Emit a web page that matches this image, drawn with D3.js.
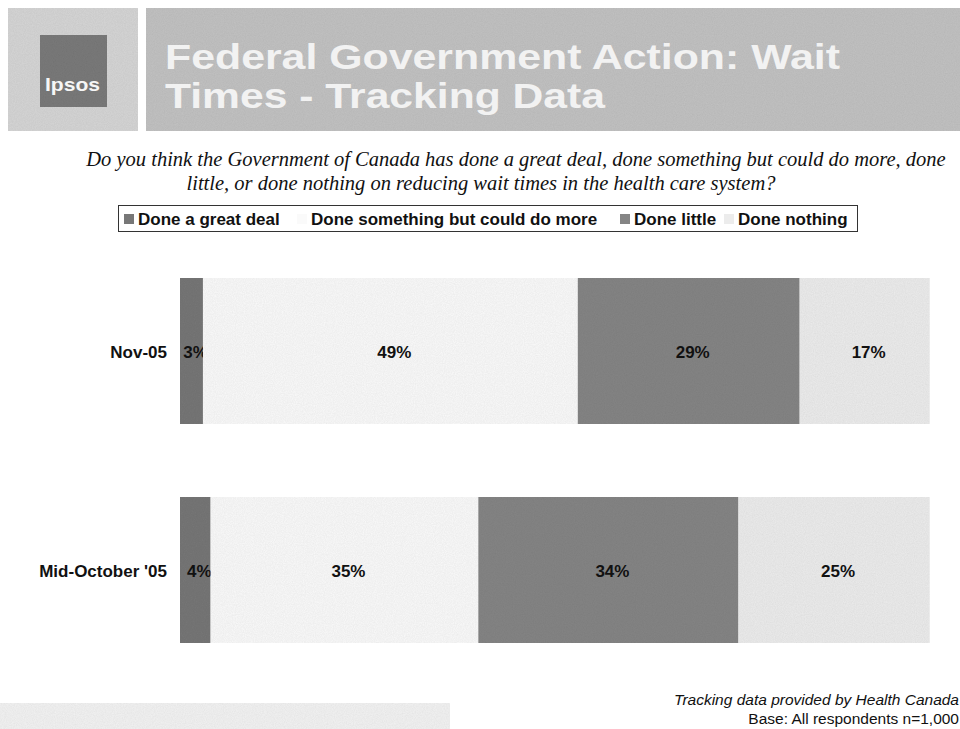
<!DOCTYPE html>
<html>
<head>
<meta charset="utf-8">
<script src="https://cdn.jsdelivr.net/npm/d3@7.9.0/dist/d3.min.js"></script>
<style>
  body { margin: 0; background: #fff; }
  svg { display: block; }
</style>
</head>
<body>
<svg id="chart" width="960" height="729"></svg>
<script>
const categories = ["Nov-05", "Mid-October '05"];
const seriesNames = ["Done a great deal", "Done something but could do more", "Done little", "Done nothing"];
const greatDeal = [3, 4];
const somethingMore = [49, 35];
const little = [29, 34];
const nothing = [17, 25];
const colors = ["#777777", "#fafafa", "#858585", "#ececec"];

const font = "Arial, 'Liberation Sans', sans-serif";
const svg = d3.select("#chart");

// light grain, like a scanned page
const defs = svg.append("defs");
const grain = defs.append("filter").attr("id", "grain").attr("x", 0).attr("y", 0).attr("width", 1).attr("height", 1);
grain.append("feTurbulence").attr("type", "fractalNoise").attr("baseFrequency", 0.9).attr("numOctaves", 2).attr("result", "noise");
grain.append("feColorMatrix").attr("in", "noise").attr("type", "matrix")
  .attr("values", "0 0 0 0 0  0 0 0 0 0  0 0 0 0 0  0 0 0 0.14 0").attr("result", "dots");
grain.append("feComposite").attr("in", "dots").attr("in2", "SourceGraphic").attr("operator", "in").attr("result", "d2");
grain.append("feMerge").call(m => {
  m.append("feMergeNode").attr("in", "SourceGraphic");
  m.append("feMergeNode").attr("in", "d2");
});

// header
svg.append("rect").attr("x", 8).attr("y", 8).attr("width", 130).attr("height", 123).attr("fill", "#d6d6d6").attr("filter", "url(#grain)");
svg.append("rect").attr("x", 40).attr("y", 35).attr("width", 67).attr("height", 72).attr("fill", "#7a7a7a").attr("filter", "url(#grain)");
svg.append("text").attr("x", 45).attr("y", 91)
  .attr("textLength", 55).attr("lengthAdjust", "spacingAndGlyphs")
  .attr("font-family", font).attr("font-size", 19).attr("font-weight", "bold")
  .attr("fill", "#f6f6f6").text("Ipsos");
svg.append("rect").attr("x", 146).attr("y", 8).attr("width", 814).attr("height", 123).attr("fill", "#c2c2c2").attr("filter", "url(#grain)");
const title = svg.append("text").attr("font-family", font)
  .attr("font-size", 35).attr("font-weight", "bold").attr("fill", "#f2f2f2");
title.append("tspan").attr("x", 165).attr("y", 69)
  .attr("textLength", 675).attr("lengthAdjust", "spacingAndGlyphs").text("Federal Government Action: Wait");
title.append("tspan").attr("x", 165).attr("y", 108)
  .attr("textLength", 440).attr("lengthAdjust", "spacingAndGlyphs").text("Times - Tracking Data");

// question
const q = svg.append("text").attr("text-anchor", "middle").attr("font-family", "'Liberation Serif', 'Times New Roman', serif")
  .attr("font-size", 20.5).attr("font-style", "italic").attr("fill", "#111");
q.append("tspan").attr("x", 516).attr("y", 166).text("Do you think the Government of Canada has done a great deal, done something but could do more, done");
q.append("tspan").attr("x", 481).attr("y", 190).text("little, or done nothing on reducing wait times in the health care system?");

// legend
const legend = svg.append("g");
legend.append("rect").attr("x", 118.5).attr("y", 205.5).attr("width", 739).attr("height", 26).attr("fill", "none").attr("stroke", "#333");
const legendX = [124, 297, 620, 724];
seriesNames.forEach((name, i) => {
  legend.append("rect").attr("x", legendX[i]).attr("y", 214).attr("width", 10).attr("height", 10).attr("fill", colors[i]);
  legend.append("text").attr("x", legendX[i] + 14).attr("y", 225)
    .attr("font-family", font).attr("font-size", 17).attr("font-weight", "bold")
    .attr("fill", "#111").text(name);
});

// bars
const x = d3.scaleLinear().domain([0, 100]).range([180, 945]);
const y = d3.scaleBand().domain(categories).range([278, 643]).paddingInner(1 / 3).paddingOuter(0);

const table = categories.map((c, i) => ({
  category: c,
  [seriesNames[0]]: greatDeal[i],
  [seriesNames[1]]: somethingMore[i],
  [seriesNames[2]]: little[i],
  [seriesNames[3]]: nothing[i]
}));
const stacked = d3.stack().keys(seriesNames)(table);

const layers = svg.append("g").selectAll("g").data(stacked).join("g").attr("fill", (d, i) => colors[i]);
layers.selectAll("rect").data(d => d).join("rect")
  .attr("x", d => x(d[0]))
  .attr("y", d => y(d.data.category))
  .attr("width", d => x(d[1]) - x(d[0]))
  .attr("height", y.bandwidth())
  .attr("filter", "url(#grain)");

layers.selectAll("text").data(d => d).join("text")
  .attr("x", d => (x(d[0]) + x(d[1])) / 2 + 4)
  .attr("y", d => y(d.data.category) + y.bandwidth() / 2 + 7)
  .attr("text-anchor", "middle")
  .attr("font-family", font).attr("font-size", 17).attr("font-weight", "bold")
  .attr("fill", "#111")
  .text(d => (d[1] - d[0]) + "%");

svg.append("g").selectAll("text").data(categories).join("text")
  .attr("x", 167).attr("y", d => y(d) + y.bandwidth() / 2 + 7)
  .attr("text-anchor", "end")
  .attr("font-family", font).attr("font-size", 17).attr("font-weight", "bold")
  .attr("fill", "#111").text(d => d);

// footer
svg.append("rect").attr("x", 0).attr("y", 703).attr("width", 450).attr("height", 26).attr("fill", "#f3f3f3").attr("filter", "url(#grain)");
svg.append("text").attr("x", 959).attr("y", 705).attr("text-anchor", "end")
  .attr("font-family", font).attr("font-size", 15.5).attr("font-style", "italic")
  .attr("fill", "#111").text("Tracking data provided by Health Canada");
svg.append("text").attr("x", 959).attr("y", 724).attr("text-anchor", "end")
  .attr("font-family", font).attr("font-size", 15.5)
  .attr("fill", "#111").text("Base: All respondents n=1,000");
</script>
</body>
</html>
